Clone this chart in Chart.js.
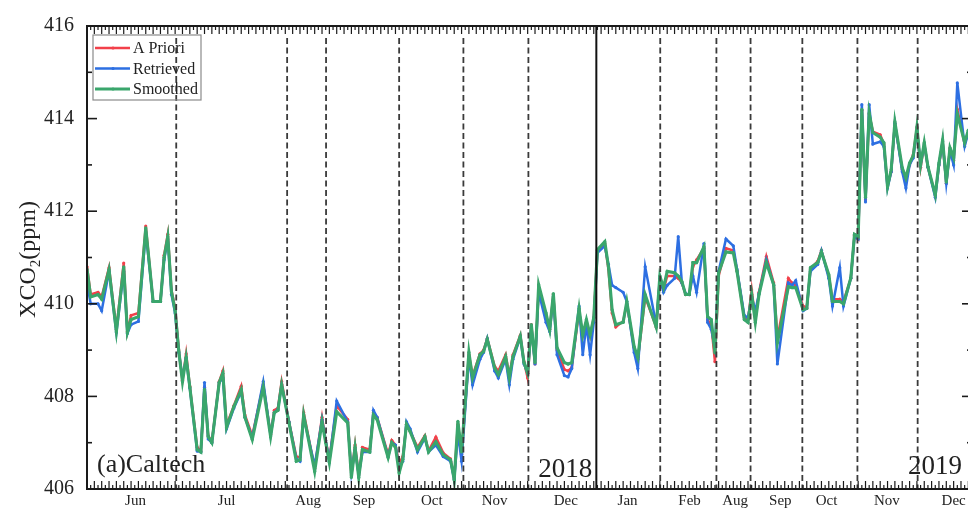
<!DOCTYPE html>
<html>
<head>
<meta charset="utf-8">
<script src="https://cdn.jsdelivr.net/npm/chart.js@4.4.1/dist/chart.umd.min.js"></script>
<style>
html, body { margin: 0; padding: 0; background: #fff; overflow: hidden; }
</style>
</head>
<body>
<canvas id="chart" width="972" height="508"></canvas>
<script>
// observation index (one unit per tick on the time axis)
const days = [
    0, 1, 3, 4, 6, 8, 10, 11, 12, 14, 16, 18, 20, 21, 22, 23, 24, 25, 26, 27, 28, 30, 31, 32, 33, 34, 36, 37, 38, 40,
    42, 43, 45, 48, 50, 51, 52, 53, 55, 57, 58, 59, 62, 64, 65, 66, 68, 71, 72, 73, 74, 75, 77, 78, 79, 82, 83, 84, 85, 86,
    87, 88, 90, 92, 93, 95, 97, 99, 100, 101, 102, 104, 105, 107, 108, 109, 111, 112, 114, 115, 116, 118, 119, 120, 121, 122, 123, 125, 126, 127,
    128, 130, 131, 132, 134, 135, 136, 137, 138, 139, 141, 142, 143, 144, 146, 147, 149, 150, 152, 155, 156, 157, 158, 160, 161, 162, 163, 164, 165, 166,
    168, 169, 170, 171, 172, 174, 176, 177, 179, 180, 181, 182, 183, 185, 187, 188, 191, 192, 193, 195, 196, 197, 199, 200, 202, 203, 205, 206, 208, 209,
    210, 211, 212, 213, 214, 216, 217, 218, 219, 220, 222, 223, 224, 225, 226, 227, 228, 229, 231, 232, 233, 234, 235, 236, 237, 239, 240
];

const aPriori = [
    410.80, 410.20, 410.25, 410.15, 410.78, 409.45, 410.88, 409.40, 409.75, 409.80, 411.68, 410.05, 410.05, 411.05, 411.50, 410.30, 409.90, 409.00, 408.35, 408.92, 408.22, 406.90, 406.82, 408.20, 407.15, 407.02, 408.32, 408.55, 407.38, 407.80,
    408.22, 407.60, 407.15, 408.25, 407.18, 407.70, 407.75, 408.32, 407.45, 406.70, 406.68, 407.65, 406.45, 407.55, 407.05, 406.65, 407.80, 407.50, 406.30, 406.95, 406.30, 406.90, 406.85, 407.65, 407.55, 406.75, 407.05, 406.95, 406.55, 406.70,
    407.40, 407.25, 406.90, 407.15, 406.82, 407.12, 406.78, 406.65, 406.22, 407.40, 406.75, 408.90, 408.45, 408.92, 409.00, 409.25, 408.65, 408.55, 408.90, 408.45, 408.90, 409.32, 408.75, 408.40, 409.55, 408.70, 410.35, 409.75, 409.45, 410.20,
    409.00, 408.58, 408.55, 408.62, 409.85, 409.30, 409.60, 409.30, 409.70, 411.15, 411.30, 410.75, 409.80, 409.50, 409.62, 410.00, 409.05, 408.80, 410.15, 409.50, 410.50, 410.30, 410.60, 410.60, 410.55, 410.45, 410.20, 410.20, 410.80, 410.95,
    411.20, 409.65, 409.55, 408.75, 410.60, 411.20, 411.15, 410.72, 409.70, 409.65, 410.30, 409.65, 410.25, 411.02, 410.45, 409.25, 410.55, 410.45, 410.40, 409.95, 409.92, 410.75, 410.92, 411.15, 410.60, 410.10, 410.10, 410.05, 410.55, 411.48,
    411.40, 414.18, 412.25, 414.10, 413.72, 413.65, 413.45, 412.55, 412.85, 413.90, 412.90, 412.65, 413.00, 413.22, 413.80, 412.95, 413.45, 412.95, 412.35, 413.00, 413.50, 412.60, 413.35, 413.10, 414.20, 413.45, 413.70
];

const retrieved = [
    410.45, 410.00, 410.00, 409.85, 410.70, 409.38, 410.70, 409.36, 409.55, 409.62, 411.55, 410.05, 410.05, 410.95, 411.40, 410.20, 409.80, 408.95, 408.40, 408.82, 408.18, 406.82, 406.80, 408.30, 407.08, 407.00, 408.30, 408.40, 407.30, 407.75,
    408.10, 407.55, 407.10, 408.32, 407.15, 407.65, 407.72, 408.25, 407.45, 406.65, 406.60, 407.55, 406.50, 407.50, 407.05, 406.60, 407.90, 407.45, 406.35, 406.85, 406.30, 406.80, 406.80, 407.70, 407.55, 406.70, 407.00, 406.95, 406.45, 406.60,
    407.45, 407.30, 406.80, 407.10, 406.80, 406.95, 406.70, 406.60, 406.20, 407.20, 406.60, 408.85, 408.25, 408.80, 408.95, 409.25, 408.55, 408.40, 408.80, 408.25, 408.80, 409.28, 408.70, 408.50, 409.50, 408.70, 410.25, 409.60, 409.40, 410.15,
    408.90, 408.45, 408.42, 408.60, 409.95, 408.90, 409.55, 408.90, 409.60, 411.10, 411.25, 410.85, 410.40, 410.35, 410.25, 410.05, 408.95, 408.60, 410.80, 409.55, 410.55, 410.25, 410.40, 410.55, 411.45, 410.45, 410.22, 410.20, 410.60, 410.25,
    411.30, 409.60, 409.45, 409.05, 410.70, 411.40, 411.25, 410.75, 409.75, 409.70, 410.15, 409.85, 410.22, 410.95, 410.40, 408.70, 410.45, 410.40, 410.50, 409.85, 409.90, 410.70, 410.85, 411.15, 410.55, 409.95, 410.78, 409.95, 410.55, 411.45,
    411.40, 414.30, 412.20, 414.30, 413.45, 413.50, 413.40, 412.50, 412.85, 413.90, 412.85, 412.50, 413.00, 413.15, 413.75, 413.00, 413.45, 412.95, 412.30, 413.00, 413.50, 412.60, 413.30, 413.00, 414.77, 413.40, 413.70
];

const smoothed = [
    410.75, 410.15, 410.20, 410.10, 410.74, 409.40, 410.80, 409.38, 409.66, 409.72, 411.64, 410.05, 410.05, 411.00, 411.45, 410.26, 409.85, 408.97, 408.32, 408.84, 408.20, 406.85, 406.80, 408.15, 407.13, 407.00, 408.30, 408.50, 407.33, 407.78,
    408.15, 407.55, 407.07, 408.20, 407.13, 407.65, 407.70, 408.25, 407.43, 406.60, 406.63, 407.60, 406.38, 407.45, 407.00, 406.57, 407.67, 407.43, 406.25, 406.90, 406.25, 406.85, 406.80, 407.60, 407.50, 406.68, 407.00, 406.90, 406.35, 406.64,
    407.40, 407.24, 406.85, 407.13, 406.80, 407.02, 406.74, 406.63, 406.20, 407.46, 406.80, 408.95, 408.40, 408.90, 408.97, 409.23, 408.62, 408.47, 408.86, 408.40, 408.86, 409.30, 408.73, 408.50, 409.55, 408.73, 410.41, 409.80, 409.44, 410.22,
    409.05, 408.73, 408.70, 408.73, 409.90, 409.33, 409.66, 409.33, 409.70, 411.17, 411.34, 410.80, 409.87, 409.55, 409.60, 410.05, 409.07, 408.84, 410.20, 409.50, 410.60, 410.35, 410.70, 410.67, 410.60, 410.48, 410.20, 410.20, 410.89, 410.89,
    411.23, 409.72, 409.66, 408.94, 410.67, 411.12, 411.10, 410.70, 409.66, 409.60, 410.20, 409.60, 410.20, 410.89, 410.41, 409.16, 410.37, 410.35, 410.35, 409.87, 409.90, 410.78, 410.89, 411.12, 410.63, 410.05, 410.05, 410.00, 410.56, 411.50,
    411.45, 414.20, 412.30, 414.12, 413.70, 413.60, 413.48, 412.53, 412.90, 413.93, 412.94, 412.72, 413.04, 413.20, 413.82, 413.00, 413.48, 412.96, 412.35, 413.04, 413.54, 412.63, 413.37, 413.15, 414.10, 413.48, 413.75
];

const monthLabels = ['Jun', 'Jul', 'Aug', 'Sep', 'Oct', 'Nov', 'Dec', 'Jan', 'Feb', 'Aug', 'Sep', 'Oct', 'Nov', 'Dec'];
const monthTicks = [13.2, 38, 60.2, 75.4, 93.9, 111, 130.4, 147.2, 164.1, 176.5, 188.8, 201.4, 217.8, 236];
const monthBreaks = [24.3, 54.5, 65.1, 85, 102.5, 120.2, 156.1, 171.4, 180.7, 194.8, 209.8, 226.2];
const yearBreak = 138.7;

const FONT = '"Liberation Serif", "Times New Roman", serif';

function toPoints(values) {
    return days.map((d, i) => ({ x: d, y: values[i] }));
}

function lineDataset(label, values, color, width, order) {
    return {
        label: label,
        data: toPoints(values),
        borderColor: color,
        backgroundColor: color,
        borderWidth: width,
        pointRadius: 1.6,
        pointBorderWidth: 0,
        pointBackgroundColor: color,
        tension: 0,
        order: order
    };
}

function strokeLine(ctx, x1, y1, x2, y2) {
    ctx.beginPath();
    ctx.moveTo(x1, y1);
    ctx.lineTo(x2, y2);
    ctx.stroke();
}

const dividers = {
    id: 'dividers',
    afterDatasetsDraw(chart) {
        const { ctx, chartArea: a, scales: { x } } = chart;
        ctx.save();
        ctx.strokeStyle = '#3a3a3a';
        ctx.lineWidth = 1.8;
        ctx.setLineDash([6, 3.5]);
        monthBreaks.forEach(v => {
            const px = x.getPixelForValue(v);
            strokeLine(ctx, px, a.top + 12, px, a.bottom);
        });
        ctx.setLineDash([]);
        ctx.strokeStyle = '#111';
        ctx.lineWidth = 2;
        const yb = x.getPixelForValue(yearBreak);
        strokeLine(ctx, yb, a.top, yb, a.bottom);
        ctx.restore();
    }
};

const frame = {
    id: 'frame',
    afterDraw(chart) {
        const { ctx, chartArea: a, scales: { x, y } } = chart;
        ctx.save();
        ctx.strokeStyle = '#1a1a1a';

        // inward ticks
        ctx.lineWidth = 1.2;
        for (let v = Math.ceil(x.min); v <= x.max; v++) {
            const px = x.getPixelForValue(v);
            const len = v % 2 === 0 ? 8 : 4;
            strokeLine(ctx, px, a.bottom, px, a.bottom - len);
            strokeLine(ctx, px, a.top, px, a.top + len);
        }
        ctx.lineWidth = 1.6;
        for (let v = y.min; v <= y.max; v++) {
            const py = y.getPixelForValue(v);
            const len = v % 2 === 0 ? 10 : 5;
            strokeLine(ctx, a.left, py, a.left + len, py);
            strokeLine(ctx, a.right, py, a.right - len, py);
        }

        // axis lines
        ctx.lineWidth = 2;
        ctx.strokeRect(a.left, a.top, a.right - a.left, a.bottom - a.top);

        // y axis title with subscript
        ctx.fillStyle = '#222';
        ctx.translate(35, (a.top + a.bottom) / 2 + 2);
        ctx.rotate(-Math.PI / 2);
        ctx.textBaseline = 'alphabetic';
        ctx.font = '24px ' + FONT;
        const w1 = ctx.measureText('XCO').width;
        const w3 = ctx.measureText('(ppm)').width;
        ctx.font = '15px ' + FONT;
        const w2 = ctx.measureText('2').width;
        const start = -(w1 + w2 + w3) / 2;
        ctx.font = '24px ' + FONT;
        ctx.fillText('XCO', start, 0);
        ctx.font = '15px ' + FONT;
        ctx.fillText('2', start + w1, 5);
        ctx.font = '24px ' + FONT;
        ctx.fillText('(ppm)', start + w1 + w2, 0);
        ctx.restore();

        // panel and year labels
        ctx.save();
        ctx.fillStyle = '#222';
        ctx.textBaseline = 'alphabetic';
        ctx.font = '26px ' + FONT;
        ctx.textAlign = 'left';
        ctx.fillText('(a)Caltech', a.left + 10, a.bottom - 17);
        ctx.font = '27px ' + FONT;
        ctx.textAlign = 'right';
        ctx.fillText('2018', x.getPixelForValue(yearBreak) - 4, a.bottom - 12);
        ctx.fillText('2019', a.right - 10, a.bottom - 15);
        ctx.restore();

        // legend box
        ctx.save();
        const lx = a.left + 6, ly = a.top + 9;
        ctx.strokeStyle = '#8a8a8a';
        ctx.lineWidth = 1.2;
        ctx.strokeRect(lx, ly, 108, 65);
        ctx.font = '16px ' + FONT;
        ctx.textBaseline = 'middle';
        chart.data.datasets.forEach((ds, i) => {
            const cy = ly + 13 + i * 20.5;
            ctx.strokeStyle = ds.borderColor;
            ctx.lineWidth = ds.borderWidth;
            strokeLine(ctx, lx + 2, cy, lx + 37, cy);
            ctx.fillStyle = ds.borderColor;
            ctx.beginPath();
            ctx.arc(lx + 20, cy, 1.6, 0, Math.PI * 2);
            ctx.fill();
            ctx.fillStyle = '#222';
            ctx.fillText(ds.label, lx + 40, cy + 1);
        });
        ctx.restore();
    }
};

const ctx = document.getElementById('chart').getContext('2d');
new Chart(ctx, {
    type: 'line',
    data: {
        datasets: [
            lineDataset('A Priori', aPriori, '#f2404a', 2.5, 3),
            lineDataset('Retrieved', retrieved, '#2d6fe2', 2.5, 2),
            lineDataset('Smoothed', smoothed, '#3aa66c', 3.1, 1)
        ]
    },
    options: {
        responsive: false,
        animation: false,
        devicePixelRatio: 1,
        layout: { autoPadding: false, padding: { top: 26, right: 0, left: 0, bottom: 0 } },
        plugins: {
            legend: { display: false },
            tooltip: { enabled: false }
        },
        scales: {
            x: {
                type: 'linear',
                min: 0,
                max: 241,
                grid: { display: false, drawTicks: false },
                border: { display: false },
                afterBuildTicks: scale => {
                    scale.ticks = monthTicks.map(v => ({ value: v }));
                },
                afterFit: scale => {
                    scale.height = 19;
                    scale.paddingLeft = 0;
                    scale.paddingRight = 0;
                },
                ticks: {
                    autoSkip: false,
                    maxRotation: 0,
                    padding: 3,
                    color: '#222',
                    font: { family: FONT, size: 15 },
                    callback: (value, index) => monthLabels[index]
                }
            },
            y: {
                min: 406,
                max: 416,
                grid: { display: false, drawTicks: false },
                border: { display: false },
                afterFit: scale => {
                    scale.width = 87;
                    scale.paddingTop = 0;
                    scale.paddingBottom = 0;
                },
                ticks: {
                    stepSize: 1,
                    padding: 13,
                    color: '#222',
                    font: { family: FONT, size: 20 },
                    callback: v => (v % 2 === 0 ? String(v) : '')
                }
            }
        }
    },
    plugins: [dividers, frame]
});
</script>
</body>
</html>
